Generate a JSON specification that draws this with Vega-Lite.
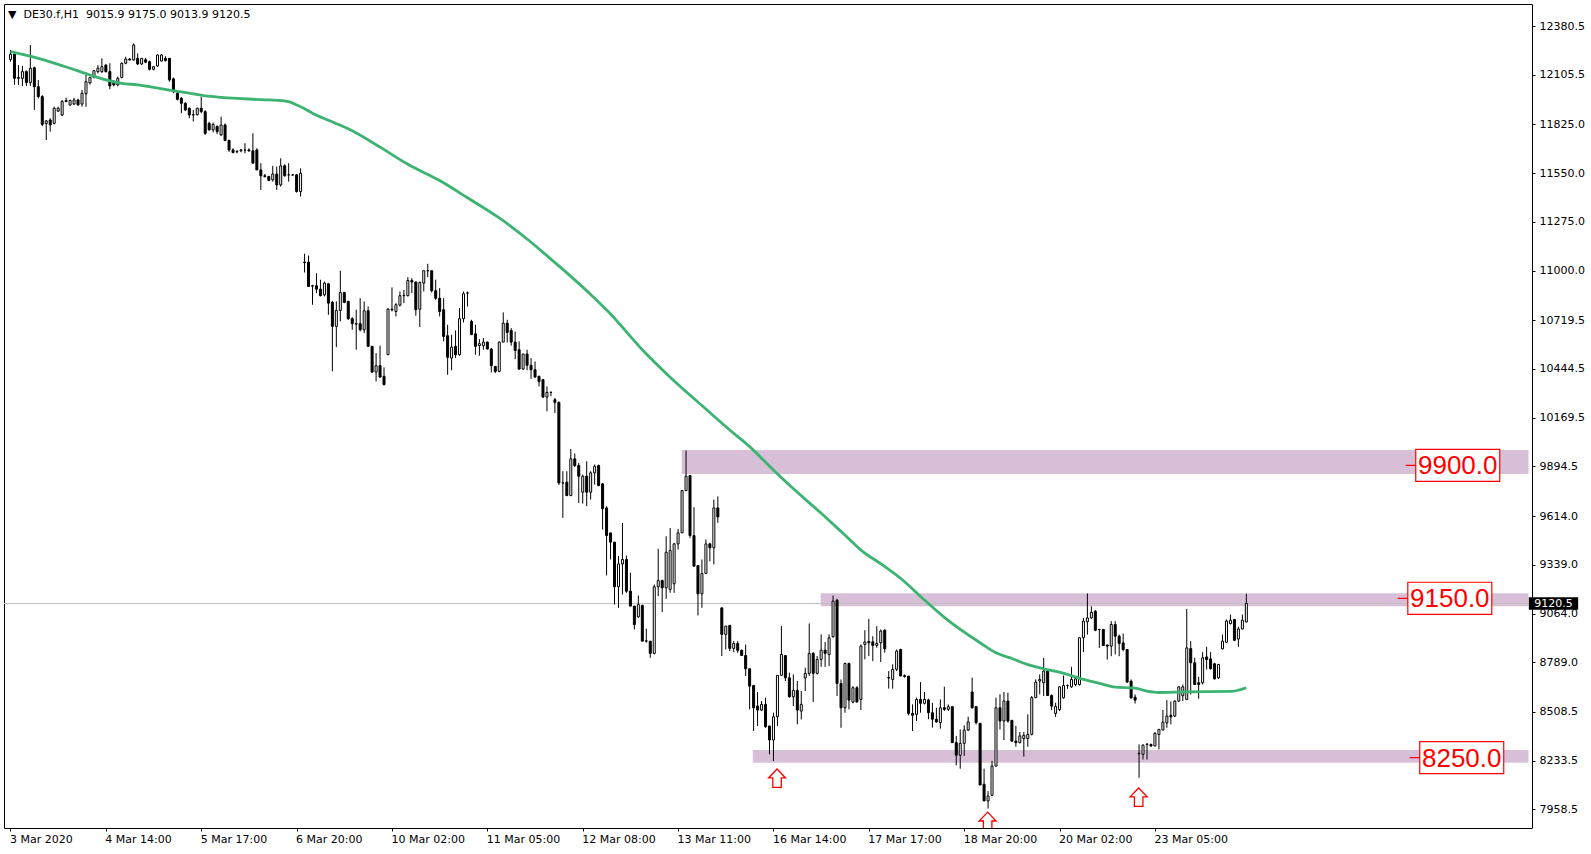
{
"$schema":"https://vega.github.io/schema/vega-lite/v6.json",
"width":1528,"height":824,
"autosize":{"type":"none"},
"padding":{"left":4,"top":4,"right":59,"bottom":26},
"background":"white",
"config":{"view":{"stroke":"black","strokeWidth":1},"axis":{"grid":false,"domain":false,"labelFont":"DejaVu Sans","labelFontSize":11,"labelColor":"black","tickColor":"black","tickSize":3,"title":null}},
"title":{"text":"▼\u00a0 DE30.f,H1\u00a0 9015.9 9175.0 9013.9 9120.5","anchor":"start","frame":"group","orient":"none","offset":0,"baseline":"alphabetic","align":"left","dx":4,"dy":14.3,"font":"DejaVu Sans","fontSize":11,"fontWeight":"normal","color":"black"},
"datasets":{
"bands":[{"i":168.9,"i2":382,"lo":9852,"hi":9987},{"i":203.9,"i2":382,"lo":9105,"hi":9178},{"i":186.8,"i2":382,"lo":8222,"hi":8293}],
"last":[{"p":9120.5}],
"labels":[{"i":364.2,"p":9900,"t":"9900.0"},{"i":362.2,"p":9150,"t":"9150.0"},{"i":365.2,"p":8250,"t":"8250.0"}],
"arrows":[{"i":192.9,"p":8186},{"i":245.9,"p":7943},{"i":283.9,"p":8079}],
"ma":[{"i":0,"p":12236},{"i":7,"p":12198},{"i":15,"p":12142},{"i":20,"p":12104},{"i":24,"p":12076},{"i":28,"p":12057},{"i":32,"p":12048},{"i":36,"p":12034},{"i":40,"p":12019},{"i":45,"p":12001},{"i":49,"p":11986},{"i":53,"p":11978},{"i":57,"p":11972},{"i":61,"p":11967},{"i":65,"p":11963},{"i":70,"p":11954},{"i":72,"p":11935},{"i":74,"p":11914},{"i":76,"p":11888},{"i":80,"p":11848},{"i":85,"p":11800},{"i":93,"p":11697},{"i":100,"p":11600},{"i":108,"p":11508},{"i":115,"p":11411},{"i":123,"p":11297},{"i":130,"p":11178},{"i":137,"p":11045},{"i":141,"p":10967},{"i":146,"p":10865},{"i":151,"p":10755},{"i":159,"p":10553},{"i":166,"p":10398},{"i":174,"p":10238},{"i":181,"p":10100},{"i":186,"p":10006},{"i":192,"p":9874},{"i":196,"p":9789},{"i":204.5,"p":9620},{"i":209.5,"p":9517},{"i":214.5,"p":9413},{"i":219.5,"p":9337},{"i":224.5,"p":9253},{"i":229.5,"p":9150},{"i":235.3,"p":9037},{"i":244,"p":8899},{"i":248,"p":8842},{"i":252,"p":8810},{"i":256,"p":8775},{"i":260,"p":8752},{"i":264,"p":8733},{"i":270,"p":8692},{"i":275,"p":8664},{"i":278,"p":8648},{"i":283,"p":8643},{"i":286,"p":8626},{"i":289,"p":8618},{"i":296,"p":8622},{"i":307,"p":8624},{"i":311,"p":8645}],
"candles":[
{"i":0,"o":12192,"h":12245,"l":12179,"c":12221},
{"i":1,"o":12221,"h":12226,"l":12048,"c":12085},
{"i":2,"o":12085,"h":12160,"l":12048,"c":12090},
{"i":3,"o":12085,"h":12155,"l":12042,"c":12123},
{"i":4,"o":12123,"h":12130,"l":12042,"c":12061},
{"i":5,"o":12061,"h":12273,"l":12042,"c":12142},
{"i":6,"o":12145,"h":12151,"l":11907,"c":12038},
{"i":7,"o":12038,"h":12076,"l":11972,"c":11982},
{"i":8,"o":11982,"h":11990,"l":11815,"c":11825},
{"i":9,"o":11830,"h":11850,"l":11737,"c":11845},
{"i":10,"o":11850,"h":11860,"l":11784,"c":11822},
{"i":11,"o":11831,"h":11925,"l":11825,"c":11916},
{"i":12,"o":11900,"h":11925,"l":11895,"c":11916},
{"i":13,"o":11878,"h":11963,"l":11872,"c":11954},
{"i":14,"o":11954,"h":11976,"l":11950,"c":11960},
{"i":15,"o":11935,"h":11965,"l":11930,"c":11960},
{"i":16,"o":11940,"h":11975,"l":11935,"c":11963},
{"i":17,"o":11963,"h":11970,"l":11930,"c":11935},
{"i":18,"o":11940,"h":12019,"l":11925,"c":12001},
{"i":19,"o":11998,"h":12104,"l":11925,"c":12066},
{"i":20,"o":12060,"h":12090,"l":12050,"c":12090},
{"i":21,"o":12090,"h":12130,"l":12085,"c":12128},
{"i":22,"o":12123,"h":12160,"l":12113,"c":12142},
{"i":23,"o":12123,"h":12198,"l":12115,"c":12151},
{"i":24,"o":12160,"h":12165,"l":12118,"c":12123},
{"i":25,"o":12123,"h":12170,"l":12023,"c":12042},
{"i":26,"o":12066,"h":12075,"l":12040,"c":12048},
{"i":27,"o":12048,"h":12095,"l":12040,"c":12085},
{"i":28,"o":12090,"h":12175,"l":12085,"c":12170},
{"i":29,"o":12170,"h":12207,"l":12165,"c":12194},
{"i":30,"o":12194,"h":12200,"l":12185,"c":12189},
{"i":31,"o":12189,"h":12283,"l":12185,"c":12273},
{"i":32,"o":12198,"h":12226,"l":12160,"c":12166},
{"i":33,"o":12166,"h":12200,"l":12160,"c":12198},
{"i":34,"o":12190,"h":12200,"l":12170,"c":12176},
{"i":35,"o":12179,"h":12185,"l":12130,"c":12136},
{"i":36,"o":12136,"h":12155,"l":12130,"c":12151},
{"i":37,"o":12155,"h":12220,"l":12150,"c":12217},
{"i":38,"o":12183,"h":12222,"l":12180,"c":12217},
{"i":39,"o":12198,"h":12210,"l":12180,"c":12185},
{"i":40,"o":12198,"h":12200,"l":12066,"c":12076},
{"i":41,"o":12082,"h":12090,"l":12001,"c":12010},
{"i":42,"o":12001,"h":12010,"l":11960,"c":11967},
{"i":43,"o":11972,"h":11980,"l":11888,"c":11944},
{"i":44,"o":11944,"h":11950,"l":11900,"c":11907},
{"i":45,"o":11916,"h":11920,"l":11860,"c":11878},
{"i":46,"o":11878,"h":11907,"l":11841,"c":11880},
{"i":47,"o":11880,"h":11920,"l":11875,"c":11916},
{"i":48,"o":11916,"h":11982,"l":11888,"c":11897},
{"i":49,"o":11897,"h":11905,"l":11766,"c":11775},
{"i":50,"o":11831,"h":11840,"l":11790,"c":11794},
{"i":51,"o":11794,"h":11835,"l":11780,"c":11825},
{"i":52,"o":11813,"h":11820,"l":11770,"c":11784},
{"i":53,"o":11766,"h":11869,"l":11760,"c":11822},
{"i":54,"o":11822,"h":11830,"l":11730,"c":11734},
{"i":55,"o":11734,"h":11740,"l":11670,"c":11681},
{"i":56,"o":11681,"h":11690,"l":11662,"c":11666},
{"i":57,"o":11670,"h":11680,"l":11662,"c":11672},
{"i":58,"o":11676,"h":11685,"l":11668,"c":11681},
{"i":59,"o":11681,"h":11719,"l":11662,"c":11681},
{"i":60,"o":11681,"h":11690,"l":11670,"c":11676},
{"i":61,"o":11676,"h":11775,"l":11606,"c":11606},
{"i":62,"o":11681,"h":11690,"l":11568,"c":11568},
{"i":63,"o":11568,"h":11606,"l":11455,"c":11535},
{"i":64,"o":11535,"h":11545,"l":11525,"c":11531},
{"i":65,"o":11531,"h":11535,"l":11505,"c":11508},
{"i":66,"o":11512,"h":11591,"l":11502,"c":11545},
{"i":67,"o":11545,"h":11587,"l":11455,"c":11484},
{"i":68,"o":11484,"h":11634,"l":11474,"c":11591},
{"i":69,"o":11591,"h":11600,"l":11530,"c":11535},
{"i":70,"o":11540,"h":11606,"l":11502,"c":11540},
{"i":71,"o":11540,"h":11545,"l":11535,"c":11540},
{"i":72,"o":11540,"h":11545,"l":11440,"c":11446},
{"i":73,"o":11446,"h":11577,"l":11418,"c":11549},
{"i":74,"o":11048,"h":11095,"l":10989,"c":11045},
{"i":75,"o":11048,"h":11085,"l":10910,"c":10910},
{"i":76,"o":10914,"h":10920,"l":10807,"c":10912},
{"i":77,"o":10914,"h":10985,"l":10873,"c":10895},
{"i":78,"o":10895,"h":10948,"l":10854,"c":10858},
{"i":79,"o":10863,"h":10938,"l":10854,"c":10929},
{"i":80,"o":10925,"h":10930,"l":10750,"c":10816},
{"i":81,"o":10820,"h":10829,"l":10431,"c":10685},
{"i":82,"o":10685,"h":10826,"l":10568,"c":10775},
{"i":83,"o":10775,"h":10999,"l":10713,"c":10876},
{"i":84,"o":10876,"h":10880,"l":10816,"c":10820},
{"i":85,"o":10826,"h":10829,"l":10722,"c":10728},
{"i":86,"o":10728,"h":10737,"l":10666,"c":10700},
{"i":87,"o":10700,"h":10779,"l":10553,"c":10698},
{"i":88,"o":10700,"h":10844,"l":10656,"c":10666},
{"i":89,"o":10666,"h":10826,"l":10647,"c":10773},
{"i":90,"o":10773,"h":10797,"l":10572,"c":10572},
{"i":91,"o":10572,"h":10576,"l":10421,"c":10427},
{"i":92,"o":10427,"h":10534,"l":10374,"c":10463},
{"i":93,"o":10463,"h":10576,"l":10393,"c":10399},
{"i":94,"o":10403,"h":10453,"l":10352,"c":10356},
{"i":95,"o":10525,"h":10788,"l":10525,"c":10782},
{"i":96,"o":10782,"h":10905,"l":10769,"c":10778},
{"i":97,"o":10769,"h":10816,"l":10741,"c":10807},
{"i":98,"o":10805,"h":10882,"l":10797,"c":10858},
{"i":99,"o":10858,"h":10891,"l":10816,"c":10860},
{"i":100,"o":10858,"h":10963,"l":10854,"c":10944},
{"i":101,"o":10944,"h":10957,"l":10873,"c":10935},
{"i":102,"o":10935,"h":10938,"l":10745,"c":10779},
{"i":103,"o":10782,"h":10938,"l":10681,"c":10933},
{"i":104,"o":10929,"h":10999,"l":10882,"c":10999},
{"i":105,"o":10999,"h":11038,"l":10963,"c":10999},
{"i":106,"o":10999,"h":10999,"l":10876,"c":10886},
{"i":107,"o":10886,"h":10948,"l":10835,"c":10844},
{"i":108,"o":10844,"h":10901,"l":10741,"c":10769},
{"i":109,"o":10779,"h":10844,"l":10600,"c":10628},
{"i":110,"o":10632,"h":10694,"l":10412,"c":10510},
{"i":111,"o":10506,"h":10638,"l":10437,"c":10568},
{"i":112,"o":10572,"h":10662,"l":10506,"c":10525},
{"i":113,"o":10525,"h":10788,"l":10519,"c":10728},
{"i":114,"o":10728,"h":10882,"l":10707,"c":10869},
{"i":115,"o":10873,"h":10882,"l":10797,"c":10873},
{"i":116,"o":10713,"h":10722,"l":10638,"c":10638},
{"i":117,"o":10643,"h":10694,"l":10525,"c":10572},
{"i":118,"o":10576,"h":10613,"l":10519,"c":10587},
{"i":119,"o":10576,"h":10619,"l":10553,"c":10596},
{"i":120,"o":10596,"h":10600,"l":10555,"c":10557},
{"i":121,"o":10557,"h":10563,"l":10425,"c":10463},
{"i":122,"o":10459,"h":10459,"l":10421,"c":10431},
{"i":123,"o":10431,"h":10600,"l":10425,"c":10596},
{"i":124,"o":10596,"h":10764,"l":10596,"c":10703},
{"i":125,"o":10703,"h":10722,"l":10594,"c":10651},
{"i":126,"o":10662,"h":10675,"l":10576,"c":10596},
{"i":127,"o":10596,"h":10656,"l":10500,"c":10549},
{"i":128,"o":10553,"h":10600,"l":10440,"c":10444},
{"i":129,"o":10444,"h":10529,"l":10440,"c":10529},
{"i":130,"o":10529,"h":10553,"l":10437,"c":10465},
{"i":131,"o":10465,"h":10506,"l":10388,"c":10440},
{"i":132,"o":10440,"h":10487,"l":10393,"c":10399},
{"i":133,"o":10403,"h":10406,"l":10346,"c":10374},
{"i":134,"o":10384,"h":10384,"l":10281,"c":10286},
{"i":135,"o":10286,"h":10346,"l":10205,"c":10312},
{"i":136,"o":10312,"h":10318,"l":10290,"c":10312},
{"i":137,"o":10271,"h":10281,"l":10196,"c":10256},
{"i":138,"o":10256,"h":10260,"l":9790,"c":9801},
{"i":139,"o":9801,"h":9867,"l":9604,"c":9801},
{"i":140,"o":9805,"h":9867,"l":9726,"c":9730},
{"i":141,"o":9730,"h":9993,"l":9726,"c":9937},
{"i":142,"o":9937,"h":9967,"l":9891,"c":9899},
{"i":143,"o":9899,"h":9914,"l":9688,"c":9839},
{"i":144,"o":9749,"h":9848,"l":9685,"c":9839},
{"i":145,"o":9839,"h":9923,"l":9670,"c":9749},
{"i":146,"o":9749,"h":9867,"l":9707,"c":9858},
{"i":147,"o":9858,"h":9905,"l":9792,"c":9895},
{"i":148,"o":9899,"h":9905,"l":9782,"c":9786},
{"i":149,"o":9796,"h":9801,"l":9538,"c":9656},
{"i":150,"o":9660,"h":9670,"l":9279,"c":9504},
{"i":151,"o":9519,"h":9519,"l":9369,"c":9467},
{"i":152,"o":9467,"h":9467,"l":9115,"c":9215},
{"i":153,"o":9215,"h":9388,"l":9096,"c":9344},
{"i":154,"o":9344,"h":9575,"l":9171,"c":9369},
{"i":155,"o":9369,"h":9391,"l":9181,"c":9190},
{"i":156,"o":9190,"h":9294,"l":9106,"c":9106},
{"i":157,"o":9106,"h":9106,"l":8974,"c":9002},
{"i":158,"o":9045,"h":9166,"l":9040,"c":9115},
{"i":159,"o":9109,"h":9115,"l":8908,"c":8908},
{"i":160,"o":8908,"h":8978,"l":8899,"c":8910},
{"i":161,"o":8908,"h":8908,"l":8814,"c":8839},
{"i":162,"o":8839,"h":9228,"l":8833,"c":9215},
{"i":163,"o":9215,"h":9429,"l":9162,"c":9250},
{"i":164,"o":9250,"h":9256,"l":9072,"c":9209},
{"i":165,"o":9209,"h":9500,"l":9147,"c":9410},
{"i":166,"o":9200,"h":9547,"l":9181,"c":9420},
{"i":167,"o":9232,"h":9463,"l":9181,"c":9457},
{"i":168,"o":9457,"h":9542,"l":9425,"c":9519},
{"i":169,"o":9519,"h":9758,"l":9519,"c":9758},
{"i":170,"o":9758,"h":9984,"l":9754,"c":9839},
{"i":171,"o":9843,"h":9843,"l":9491,"c":9504},
{"i":172,"o":9504,"h":9664,"l":9331,"c":9331},
{"i":173,"o":9335,"h":9335,"l":9053,"c":9175},
{"i":174,"o":9175,"h":9369,"l":9096,"c":9290},
{"i":175,"o":9290,"h":9482,"l":9290,"c":9457},
{"i":176,"o":9457,"h":9463,"l":9359,"c":9435},
{"i":177,"o":9435,"h":9707,"l":9341,"c":9660},
{"i":178,"o":9660,"h":9725,"l":9576,"c":9609},
{"i":179,"o":9096,"h":9096,"l":8824,"c":8946},
{"i":180,"o":8946,"h":8993,"l":8861,"c":8993},
{"i":181,"o":8997,"h":8997,"l":8852,"c":8867},
{"i":182,"o":8867,"h":8908,"l":8846,"c":8895},
{"i":183,"o":8895,"h":8908,"l":8842,"c":8856},
{"i":184,"o":8856,"h":8861,"l":8824,"c":8827},
{"i":185,"o":8827,"h":8889,"l":8711,"c":8752},
{"i":186,"o":8752,"h":8752,"l":8523,"c":8654},
{"i":187,"o":8658,"h":8658,"l":8401,"c":8532},
{"i":188,"o":8542,"h":8621,"l":8429,"c":8519},
{"i":189,"o":8519,"h":8570,"l":8513,"c":8551},
{"i":190,"o":8551,"h":8589,"l":8419,"c":8425},
{"i":191,"o":8429,"h":8429,"l":8269,"c":8350},
{"i":192,"o":8350,"h":8504,"l":8231,"c":8481},
{"i":193,"o":8481,"h":8715,"l":8429,"c":8715},
{"i":194,"o":8715,"h":8993,"l":8711,"c":8833},
{"i":195,"o":8827,"h":8827,"l":8683,"c":8701},
{"i":196,"o":8701,"h":8730,"l":8589,"c":8594},
{"i":197,"o":8594,"h":8720,"l":8542,"c":8630},
{"i":198,"o":8630,"h":8683,"l":8438,"c":8519},
{"i":199,"o":8513,"h":8626,"l":8466,"c":8551},
{"i":200,"o":8700,"h":8758,"l":8626,"c":8726},
{"i":201,"o":8726,"h":9008,"l":8711,"c":8839},
{"i":202,"o":8839,"h":8846,"l":8564,"c":8726},
{"i":203,"o":8726,"h":8824,"l":8720,"c":8805},
{"i":204,"o":8805,"h":8946,"l":8763,"c":8857},
{"i":205,"o":8857,"h":8903,"l":8763,"c":8839},
{"i":206,"o":8833,"h":8946,"l":8767,"c":8927},
{"i":207,"o":8933,"h":9166,"l":8927,"c":9134},
{"i":208,"o":9139,"h":9147,"l":8598,"c":8669},
{"i":209,"o":8669,"h":8692,"l":8419,"c":8532},
{"i":210,"o":8532,"h":8786,"l":8504,"c":8782},
{"i":211,"o":8782,"h":8786,"l":8523,"c":8575},
{"i":212,"o":8564,"h":8654,"l":8557,"c":8645},
{"i":213,"o":8645,"h":8654,"l":8564,"c":8564},
{"i":214,"o":8579,"h":8889,"l":8519,"c":8880},
{"i":215,"o":8889,"h":8970,"l":8805,"c":8903},
{"i":216,"o":8906,"h":9034,"l":8824,"c":8899},
{"i":217,"o":8904,"h":8936,"l":8795,"c":8884},
{"i":218,"o":8884,"h":8993,"l":8871,"c":8895},
{"i":219,"o":8899,"h":8974,"l":8790,"c":8965},
{"i":220,"o":8970,"h":8974,"l":8843,"c":8865},
{"i":221,"o":8702,"h":8739,"l":8640,"c":8700},
{"i":222,"o":8692,"h":8777,"l":8640,"c":8749},
{"i":223,"o":8749,"h":8861,"l":8739,"c":8852},
{"i":224,"o":8861,"h":8865,"l":8711,"c":8711},
{"i":225,"o":8713,"h":8720,"l":8702,"c":8708},
{"i":226,"o":8711,"h":8711,"l":8489,"c":8500},
{"i":227,"o":8500,"h":8551,"l":8401,"c":8489},
{"i":228,"o":8495,"h":8589,"l":8457,"c":8579},
{"i":229,"o":8579,"h":8677,"l":8504,"c":8557},
{"i":230,"o":8557,"h":8621,"l":8551,"c":8579},
{"i":231,"o":8576,"h":8583,"l":8467,"c":8504},
{"i":232,"o":8504,"h":8560,"l":8420,"c":8467},
{"i":233,"o":8467,"h":8532,"l":8448,"c":8452},
{"i":234,"o":8448,"h":8579,"l":8414,"c":8532},
{"i":235,"o":8532,"h":8651,"l":8514,"c":8523},
{"i":236,"o":8523,"h":8551,"l":8514,"c":8538},
{"i":237,"o":8538,"h":8542,"l":8335,"c":8335},
{"i":238,"o":8335,"h":8373,"l":8207,"c":8264},
{"i":239,"o":8264,"h":8410,"l":8188,"c":8331},
{"i":240,"o":8331,"h":8433,"l":8260,"c":8406},
{"i":241,"o":8406,"h":8482,"l":8401,"c":8452},
{"i":242,"o":8621,"h":8702,"l":8527,"c":8532},
{"i":243,"o":8538,"h":8542,"l":8438,"c":8448},
{"i":244,"o":8444,"h":8444,"l":8096,"c":8096},
{"i":245,"o":8100,"h":8188,"l":8006,"c":8006},
{"i":246,"o":8006,"h":8062,"l":7963,"c":8034},
{"i":247,"o":8038,"h":8232,"l":8034,"c":8203},
{"i":248,"o":8203,"h":8589,"l":8200,"c":8532},
{"i":249,"o":8532,"h":8608,"l":8410,"c":8457},
{"i":250,"o":8457,"h":8621,"l":8350,"c":8570},
{"i":251,"o":8570,"h":8617,"l":8448,"c":8457},
{"i":252,"o":8461,"h":8461,"l":8339,"c":8344},
{"i":253,"o":8344,"h":8430,"l":8312,"c":8335},
{"i":254,"o":8335,"h":8395,"l":8331,"c":8373},
{"i":255,"o":8358,"h":8395,"l":8256,"c":8376},
{"i":256,"o":8358,"h":8495,"l":8312,"c":8382},
{"i":257,"o":8382,"h":8598,"l":8376,"c":8589},
{"i":258,"o":8589,"h":8692,"l":8589,"c":8677},
{"i":259,"o":8683,"h":8720,"l":8608,"c":8692},
{"i":260,"o":8673,"h":8814,"l":8598,"c":8739},
{"i":261,"o":8739,"h":8748,"l":8598,"c":8601},
{"i":262,"o":8601,"h":8608,"l":8519,"c":8541},
{"i":263,"o":8500,"h":8560,"l":8480,"c":8540},
{"i":264,"o":8522,"h":8654,"l":8513,"c":8650},
{"i":265,"o":8588,"h":8714,"l":8583,"c":8658},
{"i":266,"o":8658,"h":8663,"l":8639,"c":8658},
{"i":267,"o":8650,"h":8763,"l":8645,"c":8692},
{"i":268,"o":8663,"h":8701,"l":8654,"c":8695},
{"i":269,"o":8663,"h":8927,"l":8657,"c":8927},
{"i":270,"o":8927,"h":9039,"l":8846,"c":9021},
{"i":271,"o":9017,"h":9177,"l":8945,"c":9039},
{"i":272,"o":9039,"h":9105,"l":9034,"c":9071},
{"i":273,"o":9077,"h":9083,"l":8964,"c":8970},
{"i":274,"o":8974,"h":8977,"l":8870,"c":8974},
{"i":275,"o":8974,"h":8977,"l":8883,"c":8883},
{"i":276,"o":8886,"h":8889,"l":8804,"c":8880},
{"i":277,"o":8880,"h":9021,"l":8823,"c":9002},
{"i":278,"o":9002,"h":9021,"l":8833,"c":8936},
{"i":279,"o":8936,"h":8945,"l":8823,"c":8895},
{"i":280,"o":8898,"h":8951,"l":8851,"c":8861},
{"i":281,"o":8861,"h":8861,"l":8673,"c":8677},
{"i":282,"o":8682,"h":8692,"l":8583,"c":8588},
{"i":283,"o":8592,"h":8607,"l":8556,"c":8575},
{"i":284,"o":8272,"h":8325,"l":8137,"c":8275},
{"i":285,"o":8269,"h":8325,"l":8240,"c":8321},
{"i":286,"o":8325,"h":8331,"l":8240,"c":8327},
{"i":287,"o":8325,"h":8329,"l":8312,"c":8316},
{"i":288,"o":8316,"h":8395,"l":8316,"c":8387},
{"i":289,"o":8381,"h":8410,"l":8297,"c":8410},
{"i":290,"o":8406,"h":8519,"l":8406,"c":8451},
{"i":291,"o":8447,"h":8575,"l":8419,"c":8485},
{"i":292,"o":8489,"h":8567,"l":8438,"c":8481},
{"i":293,"o":8485,"h":8575,"l":8481,"c":8569},
{"i":294,"o":8569,"h":8654,"l":8569,"c":8650},
{"i":295,"o":8600,"h":8663,"l":8569,"c":8650},
{"i":296,"o":8579,"h":9090,"l":8575,"c":8870},
{"i":297,"o":8866,"h":8908,"l":8607,"c":8786},
{"i":298,"o":8786,"h":8814,"l":8663,"c":8663},
{"i":299,"o":8673,"h":8707,"l":8583,"c":8663},
{"i":300,"o":8673,"h":8846,"l":8663,"c":8814},
{"i":301,"o":8819,"h":8876,"l":8748,"c":8804},
{"i":302,"o":8808,"h":8846,"l":8748,"c":8752},
{"i":303,"o":8780,"h":8786,"l":8692,"c":8695},
{"i":304,"o":8701,"h":8780,"l":8695,"c":8776},
{"i":305,"o":8865,"h":8945,"l":8861,"c":8908},
{"i":306,"o":8902,"h":9030,"l":8898,"c":9021},
{"i":307,"o":9007,"h":9058,"l":9002,"c":9026},
{"i":308,"o":9030,"h":9034,"l":8908,"c":8913},
{"i":309,"o":8920,"h":8989,"l":8876,"c":8977},
{"i":310,"o":8977,"h":9058,"l":8974,"c":9026},
{"i":311,"o":9015.9,"h":9175,"l":9013.9,"c":9120.5}
]},
"layer":[
{"data":{"name":"bands"},"mark":{"type":"rect","color":"#d8bfd8","clip":true},
 "encoding":{"x":{"field":"i","type":"quantitative","scale":{"domain":[-0.375,381.625],"nice":false,"zero":false}},"x2":{"field":"i2"},
 "y":{"field":"lo","type":"quantitative","scale":{"domain":[7853.2,12504.7],"nice":false,"zero":false}},"y2":{"field":"hi"}}},
{"data":{"name":"last"},"mark":{"type":"rule","color":"#c0c0c0","strokeWidth":1},
 "encoding":{"y":{"field":"p","type":"quantitative","scale":{"domain":[7853.2,12504.7],"nice":false,"zero":false}}}},
{"data":{"name":"candles"},"mark":{"type":"rule","color":"black","strokeWidth":1},
 "encoding":{"x":{"field":"i","type":"quantitative","scale":{"domain":[-0.375,381.625],"nice":false,"zero":false},
   "axis":{"orient":"bottom","values":[0,24,48,72,96,120,144,168,192,216,240,264,288],"labelExpr":"['3 Mar 2020','4 Mar 14:00','5 Mar 17:00','6 Mar 20:00','10 Mar 02:00','11 Mar 05:00','12 Mar 08:00','13 Mar 11:00','16 Mar 14:00','17 Mar 17:00','18 Mar 20:00','20 Mar 02:00','23 Mar 05:00'][round(datum.value/24)]","labelAlign":"left","labelBaseline":"top","labelPadding":2,"labelOffset":-1,"labelOverlap":false,"labelFlush":false,"labelBound":false,"title":null,"zindex":0}},
 "y":{"field":"l","type":"quantitative","scale":{"domain":[7853.2,12504.7],"nice":false,"zero":false},
   "axis":{"orient":"right","values":[12380.5,12105.5,11825.0,11550.0,11275.0,11000.0,10719.5,10444.5,10169.5,9894.5,9614.0,9339.0,9064.0,8789.0,8508.5,8233.5,7958.5],"format":".1f","labelPadding":4,"labelOverlap":false,"labelFlush":false,"labelBound":false,"title":null,"zindex":0}},
 "y2":{"field":"h"}}},
{"data":{"name":"candles"},"mark":{"type":"bar","size":2,"stroke":"black","strokeWidth":1},
 "encoding":{"x":{"field":"i","type":"quantitative","scale":{"domain":[-0.375,381.625],"nice":false,"zero":false}},
 "y":{"field":"o","type":"quantitative","scale":{"domain":[7853.2,12504.7],"nice":false,"zero":false}},"y2":{"field":"c"},
 "fill":{"condition":{"test":"datum.c < datum.o","value":"black"},"value":"white"}}},
{"data":{"name":"ma"},"mark":{"type":"line","color":"#3cb371","strokeWidth":2.8,"interpolate":"monotone"},
 "encoding":{"x":{"field":"i","type":"quantitative","scale":{"domain":[-0.375,381.625],"nice":false,"zero":false}},
 "y":{"field":"p","type":"quantitative","scale":{"domain":[7853.2,12504.7],"nice":false,"zero":false}}}},
{"data":{"name":"labels"},"mark":{"type":"point","shape":"M-1,-0.381H1V0.381H-1Z M-1.238,0H-1","size":7056,"filled":false,"fill":"white","fillOpacity":1,"stroke":"#ff0000","strokeWidth":1.2,"opacity":1},
 "encoding":{"x":{"field":"i","type":"quantitative","scale":{"domain":[-0.375,381.625],"nice":false,"zero":false}},
 "y":{"field":"p","type":"quantitative","scale":{"domain":[7853.2,12504.7],"nice":false,"zero":false}}}},
{"data":{"name":"labels"},"mark":{"type":"text","font":"Liberation Sans","fontSize":26,"color":"#ff0000","align":"center","baseline":"middle","dy":1},
 "encoding":{"x":{"field":"i","type":"quantitative","scale":{"domain":[-0.375,381.625],"nice":false,"zero":false}},
 "y":{"field":"p","type":"quantitative","scale":{"domain":[7853.2,12504.7],"nice":false,"zero":false}},"text":{"field":"t"}}},
{"data":{"name":"arrows"},"mark":{"type":"point","shape":"M0,0L1,1.05L0.5,1.05L0.5,2.15L-0.5,2.15L-0.5,1.05L-1,1.05Z","size":289,"filled":false,"fill":"white","fillOpacity":1,"stroke":"#ff0000","strokeWidth":1.3,"opacity":1,"clip":true},
 "encoding":{"x":{"field":"i","type":"quantitative","scale":{"domain":[-0.375,381.625],"nice":false,"zero":false}},
 "y":{"field":"p","type":"quantitative","scale":{"domain":[7853.2,12504.7],"nice":false,"zero":false}}}},
{"data":{"name":"last"},"mark":{"type":"point","shape":"M-1,-0.2556H1V0.2556H-1Z","size":2430,"filled":true,"color":"black","opacity":1},
 "encoding":{"x":{"datum":388.29,"type":"quantitative","scale":{"domain":[-0.375,381.625],"nice":false,"zero":false}},
 "y":{"field":"p","type":"quantitative","scale":{"domain":[7853.2,12504.7],"nice":false,"zero":false}}}},
{"data":{"name":"last"},"mark":{"type":"text","font":"DejaVu Sans","fontSize":11,"color":"white","align":"left","baseline":"middle"},
 "encoding":{"x":{"datum":383.45,"type":"quantitative","scale":{"domain":[-0.375,381.625],"nice":false,"zero":false}},
 "y":{"field":"p","type":"quantitative","scale":{"domain":[7853.2,12504.7],"nice":false,"zero":false}},"text":{"field":"p","format":".1f"}}}
]
}
